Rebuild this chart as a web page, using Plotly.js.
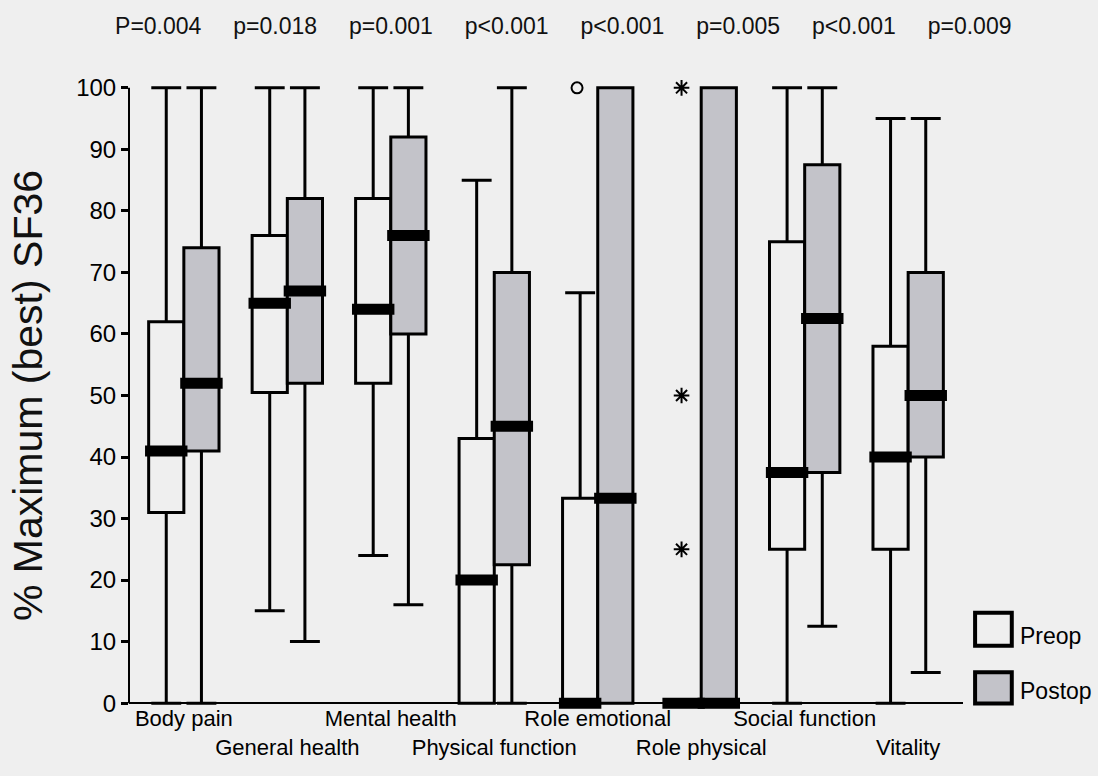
<!DOCTYPE html>
<html>
<head>
<meta charset="utf-8">
<script src="https://cdn.plot.ly/plotly-3.0.1.min.js"></script>
<style>html,body{margin:0;padding:0;background:#efefef;}#chart{width:1098px;height:776px;}</style>
</head>
<body>
<div id="chart"></div>
<script>
// ---- data ----
const categories = ["Body pain","General health","Mental health","Physical function","Role emotional","Role physical","Social function","Vitality"];
const pValues = ["P=0.004","p=0.018","p=0.001","p<0.001","p<0.001","p=0.005","p<0.001","p=0.009"];

const preopLower  = [0, 15, 24, 0, 0, 0, 0, 0];
const preopQ1     = [31, 50.5, 52, 0, 0, 0, 25, 25];
const preopMedian = [41, 65, 64, 20, 0, 0, 37.5, 40];
const preopQ3     = [62, 76, 82, 43, 33.3, 0, 75, 58];
const preopUpper  = [100, 100, 100, 85, 66.7, 0, 100, 95];

const postopLower  = [0, 10, 16, 0, 0, 0, 12.5, 5];
const postopQ1     = [41, 52, 60, 22.5, 0, 0, 37.5, 40];
const postopMedian = [52, 67, 76, 45, 33.3, 0, 62.5, 50];
const postopQ3     = [74, 82, 92, 70, 100, 100, 87.5, 70];
const postopUpper  = [100, 100, 100, 100, 100, 100, 100, 95];

// outliers (preop): circles and extreme values (asterisks)
const circleCat = ["Role emotional"];
const circleVal = [100];
const starCat = ["Role physical","Role physical","Role physical"];
const starVal = [100, 50, 25];

// ---- positions derived from category index ----
const idx = categories.map((c,i)=>i);
const OFF = 0.17, BW = 0.34;
const xPre = idx.map(i=>i-OFF);
const xPost = idx.map(i=>i+OFF);
const catPos = c => categories.indexOf(c);

const black = '#000000';
const bg = '#efefef';
const grayFill = '#c3c3c9';

function boxTrace(x, lo, q1, med, q3, hi, fill, name){
  return {type:'box', x:x, q1:q1, median:med, q3:q3, lowerfence:lo, upperfence:hi,
    boxpoints:false, width:BW, whiskerwidth:0.85, fillcolor:fill,
    line:{color:black, width:3}, name:name, showlegend:false, hoverinfo:'skip'};
}
function medianTrace(x, med){
  return {type:'box', x:x, q1:med, median:med, q3:med, lowerfence:med, upperfence:med,
    boxpoints:false, width:BW+0.07, whiskerwidth:0, fillcolor:'rgba(0,0,0,0)',
    line:{color:black, width:11}, showlegend:false, hoverinfo:'skip'};
}

const traces = [
  boxTrace(xPre, preopLower, preopQ1, preopMedian, preopQ3, preopUpper, bg, 'Preop'),
  boxTrace(xPost, postopLower, postopQ1, postopMedian, postopQ3, postopUpper, grayFill, 'Postop'),
  medianTrace(xPre, preopMedian),
  medianTrace(xPost, postopMedian),
  {type:'scatter', mode:'markers', x:circleCat.map(c=>catPos(c)-OFF-0.03), y:circleVal,
    marker:{symbol:'circle-open', size:11, color:black, line:{width:2, color:black}}, showlegend:false, hoverinfo:'skip'},
  {type:'scatter', mode:'markers', x:starCat.map(c=>catPos(c)-OFF-0.02), y:starVal,
    marker:{symbol:'asterisk-open', size:13, color:black, line:{width:2, color:black}}, showlegend:false, hoverinfo:'skip'}
];

const sans = '"Liberation Sans", Arial, sans-serif';
const gap = '\u00a0\u00a0\u00a0\u00a0\u00a0';
const yMin = -1.6, yMax = 101.6;

const layout = {
  width:1098, height:776,
  paper_bgcolor:bg, plot_bgcolor:bg,
  margin:{l:129, r:135, t:78, b:63},
  showlegend:false,
  title:{text:pValues.join(gap), x:0.513, xanchor:'center', xref:'container',
    y:0.966, yanchor:'middle', yref:'container',
    font:{family:sans, size:23, color:'#111111'}},
  xaxis:{range:[-0.53, 7.53], tickvals:idx, tickangle:0,
    ticktext:categories.map((c,i)=> i%2===0 ? c : '<br>'+c),
    anchor:'free', position:(0 - yMin)/(yMax - yMin),
    showgrid:false, zeroline:false, showline:false, ticks:'',
    tickfont:{family:sans, size:22, color:black}, fixedrange:true},
  yaxis:{range:[yMin, yMax], tickvals:[0,10,20,30,40,50,60,70,80,90,100],
    showgrid:false, zeroline:true, zerolinecolor:black, zerolinewidth:2,
    showline:false, ticks:'outside', ticklen:7, tickwidth:3, tickcolor:black,
    tickfont:{family:sans, size:24, color:black},
    title:{text:'% Maximum (best) SF36', font:{family:sans, size:41, color:'#111111'}, standoff:20},
    fixedrange:true},
  shapes:[
    {type:'line', xref:'paper', x0:0, x1:0, yref:'y', y0:0, y1:100, line:{color:black, width:2}},
    {type:'rect', xref:'paper', yref:'paper', x0:1.0145, x1:1.0585, y0:0.106, y1:0.158, fillcolor:bg, line:{color:black, width:4}},
    {type:'rect', xref:'paper', yref:'paper', x0:1.0145, x1:1.0585, y0:0.015, y1:0.064, fillcolor:grayFill, line:{color:black, width:4}}
  ],
  annotations:[
    {xref:'paper', yref:'paper', x:1.066, y:0.122, xanchor:'left', yanchor:'middle', showarrow:false, text:'Preop',
      font:{family:sans, size:23, color:black}},
    {xref:'paper', yref:'paper', x:1.066, y:0.035, xanchor:'left', yanchor:'middle', showarrow:false, text:'Postop',
      font:{family:sans, size:23, color:black}}
  ]
};

Plotly.newPlot('chart', traces, layout, {displayModeBar:false, staticPlot:true});
</script>
</body>
</html>
